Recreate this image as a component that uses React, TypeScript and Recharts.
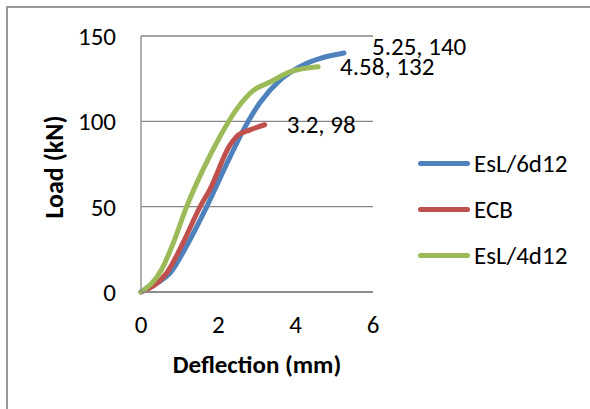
import { CartesianGrid, LabelList, Legend, Line, LineChart, XAxis, YAxis } from "recharts";

// deflection (mm) / load (kN)
const esl6X = [0, 0.4, 0.75, 1.18, 1.7, 2.3, 2.65, 3.08, 3.59, 4.03, 5.25];
const esl6Y = [0, 5, 11, 27, 50, 79, 95, 111, 124, 131, 140];

const ecbX = [0, 0.4, 0.66, 1.09, 1.53, 1.78, 2.3, 2.47, 2.82, 3.2];
const ecbY = [0, 5, 11, 29, 50, 60, 86, 91, 95, 98];

const esl4X = [0, 0.53, 0.84, 1.18, 1.61, 2.04, 2.47, 2.9, 3.34, 3.85, 4.58];
const esl4Y = [0, 13, 29, 50, 72, 91, 107, 118, 123, 129, 132];

const xTicks = [0, 2, 4, 6];
const yTicks = [0, 50, 100, 150];

const FONT = "Carlito, Calibri, Lato, sans-serif";
const FS = 25;
const AXIS = "#868686";

const toRows = (xs: number[], ys: number[]) => xs.map((x, i) => ({ x, y: ys[i] }));

const series = [
  { name: "EsL/6d12", color: "#4F81BD", data: toRows(esl6X, esl6Y), dx: 28, dy: -6 },
  { name: "ECB", color: "#C0504D", data: toRows(ecbX, ecbY), dx: 22, dy: 0 },
  { name: "EsL/4d12", color: "#9BBB59", data: toRows(esl4X, esl4Y), dx: 22, dy: 0 },
];

function LegendBox() {
  return (
    <div style={{ fontFamily: FONT, fontSize: FS, color: "#000" }}>
      {series.map((s) => (
        <div key={s.name} style={{ height: 46.3, display: "flex", alignItems: "center" }}>
          <span
            style={{
              display: "inline-block",
              width: 52,
              height: 5,
              borderRadius: 3,
              background: s.color,
              marginLeft: 6,
              marginRight: 4,
            }}
          />
          <span>{s.name}</span>
        </div>
      ))}
    </div>
  );
}

export default function App() {
  return (
    <div
      style={{
        position: "absolute",
        left: 0,
        top: 0,
        width: 590,
        height: 409,
        overflow: "hidden",
        background: "#fff",
      }}
    >
      <div
        style={{
          position: "absolute",
          left: 6,
          top: 6,
          width: 620,
          height: 440,
          border: "2px solid #999",
        }}
      />
      <LineChart
        width={590}
        height={409}
        margin={{ top: 36, right: 217, bottom: 0, left: 0 }}
        style={{ fontFamily: FONT }}
      >
        <CartesianGrid stroke={AXIS} strokeWidth={1.3} vertical={false} />
        <XAxis
          type="number"
          dataKey="x"
          domain={[0, 6]}
          ticks={xTicks}
          height={117}
          stroke={AXIS}
          strokeWidth={1.3}
          tickLine={false}
          tickSize={0}
          tickMargin={23}
          tick={{ fill: "#000", fontSize: FS }}
          label={{
            content: () => (
              <text x={257} y={373} textAnchor="middle" fontWeight="bold" fontSize={FS} fill="#000">
                Deflection (mm)
              </text>
            ),
          }}
        />
        <YAxis
          type="number"
          domain={[0, 150]}
          ticks={yTicks}
          width={141}
          stroke={AXIS}
          strokeWidth={1.3}
          tickLine={false}
          tickSize={0}
          tickMargin={25}
          tick={{ fill: "#000", fontSize: FS }}
          label={{
            content: () => (
              <text
                x={63}
                y={167}
                transform="rotate(-90 63 167)"
                textAnchor="middle"
                fontWeight="bold"
                fontSize={26}
                fill="#000"
              >
                Load (kN)
              </text>
            ),
          }}
        />
        <Legend
          layout="vertical"
          align="center"
          verticalAlign="middle"
          wrapperStyle={{ left: 412, top: 140, width: 178 }}
          content={() => <LegendBox />}
        />
        {series.map((s) => (
          <Line
            key={s.name}
            name={s.name}
            data={s.data}
            dataKey="y"
            type="monotone"
            stroke={s.color}
            strokeWidth={5}
            strokeLinecap="round"
            strokeLinejoin="round"
            dot={false}
            isAnimationActive={false}
          >
            <LabelList
              dataKey="y"
              content={(p: any) => {
                const last = s.data.length - 1;
                if (p.index !== last) return null;
                const pt = s.data[last];
                return (
                  <text x={Number(p.x) + s.dx} y={Number(p.y) + s.dy + 8} fontSize={FS} fill="#000">
                    {`${pt.x}, ${pt.y}`}
                  </text>
                );
              }}
            />
          </Line>
        ))}
      </LineChart>
    </div>
  );
}
